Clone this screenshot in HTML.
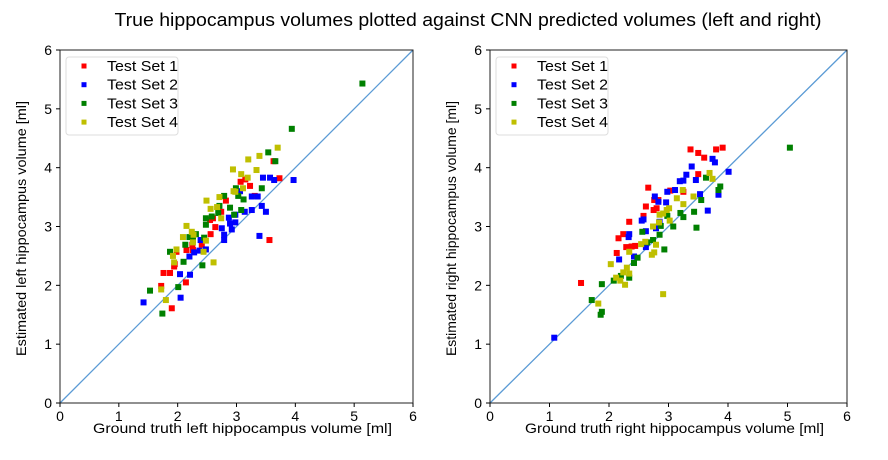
<!DOCTYPE html>
<html><head><meta charset="utf-8"><style>
body{margin:0;background:#fff;}
svg{display:block;font-family:"Liberation Sans","DejaVu Sans",sans-serif;}
</style></head><body>
<svg id="c" width="888" height="460">
<text x="468" y="26" text-anchor="middle" font-size="18" textLength="707" lengthAdjust="spacingAndGlyphs" fill="#000">True hippocampus volumes plotted against  CNN predicted volumes (left and right)</text>
</svg>
<script>
// Left panel data [x, y] in ml
const leftSet1=[[1.76,2.21],[1.87,2.21],[1.94,2.32],[1.95,2.36],[1.72,1.99],[1.90,1.61],[2.14,2.05],[2.15,2.60],[2.26,2.60],[1.98,2.57],[2.41,2.69],[2.56,2.87],[2.64,2.99],[2.55,3.11],[2.60,3.14],[2.74,3.25],[2.82,3.44],[3.07,3.76],[3.15,3.80],[3.23,3.69],[3.31,3.52],[3.63,4.11],[3.73,3.82],[3.56,2.77],[2.25,2.69]];
const leftSet2=[[1.42,1.71],[2.05,1.79],[2.04,2.19],[2.21,2.18],[2.20,2.49],[2.28,2.56],[2.37,2.59],[2.39,2.77],[2.48,2.61],[2.75,2.97],[2.79,2.86],[2.79,2.77],[2.87,3.15],[2.89,3.05],[2.98,3.07],[2.92,2.95],[2.98,3.20],[3.14,3.25],[3.26,3.28],[3.43,3.35],[3.50,3.25],[3.26,3.51],[3.36,3.51],[3.39,2.84],[3.45,3.83],[3.57,3.83],[3.64,3.79],[3.97,3.79],[3.06,3.60],[2.43,2.77]];
const leftSet3=[[1.74,1.52],[1.53,1.91],[2.01,1.97],[2.10,2.40],[1.87,2.57],[2.13,2.69],[2.20,2.82],[2.31,2.87],[2.26,2.77],[2.42,2.34],[2.45,2.81],[2.48,3.14],[2.58,3.17],[2.48,3.03],[2.69,3.23],[2.71,3.35],[2.79,3.52],[2.89,3.32],[2.96,3.20],[3.08,3.28],[2.99,3.65],[3.03,3.52],[3.12,3.46],[3.43,3.65],[3.54,4.26],[3.66,4.11],[3.94,4.66],[5.14,5.43]];
const leftSet4=[[1.72,1.93],[1.80,1.75],[1.94,2.39],[1.92,2.50],[1.98,2.61],[2.09,2.82],[2.15,3.01],[2.24,2.91],[2.27,2.86],[2.26,2.73],[2.44,2.57],[2.61,2.39],[2.48,2.76],[2.49,3.44],[2.56,3.30],[2.67,3.33],[2.71,3.50],[2.74,3.14],[2.95,3.60],[2.98,3.59],[2.94,3.97],[3.08,3.89],[3.11,3.65],[3.19,3.83],[3.20,4.14],[3.34,3.96],[3.39,4.20],[3.70,4.34]];
// Right panel data
const rightSet1=[[1.53,2.04],[2.13,2.55],[2.16,2.80],[2.24,2.87],[2.29,2.65],[2.34,3.08],[2.38,2.66],[2.44,2.67],[2.58,3.18],[2.62,3.34],[2.66,3.66],[2.76,3.45],[2.75,3.28],[2.80,3.31],[2.83,3.45],[3.03,3.61],[3.25,3.59],[3.37,4.31],[3.50,4.25],[3.60,4.17],[3.80,4.31],[3.91,4.34],[3.50,3.89]];
const rightSet2=[[2.17,2.44],[2.33,2.82],[2.34,2.87],[2.55,3.10],[2.58,3.12],[2.62,2.92],[2.79,2.97],[2.85,3.08],[2.77,3.51],[2.83,3.42],[2.96,3.41],[2.98,3.59],[3.11,3.62],[3.19,3.77],[3.25,3.78],[3.30,3.88],[3.39,4.02],[3.46,3.79],[3.53,3.55],[3.66,3.27],[3.74,4.15],[3.78,4.09],[3.84,3.54],[4.01,3.93],[2.42,2.49],[2.62,2.65],[1.08,1.11]];
const rightSet3=[[1.71,1.75],[1.88,1.55],[1.86,1.50],[1.88,2.02],[2.08,2.08],[2.20,2.16],[2.34,2.13],[2.42,2.38],[2.48,2.47],[2.56,2.91],[2.64,2.73],[2.74,2.77],[2.85,2.86],[2.87,3.01],[2.98,3.18],[2.93,2.61],[3.08,3.00],[3.20,3.23],[3.25,3.16],[3.43,3.25],[3.47,2.98],[3.55,3.45],[3.63,3.83],[3.84,3.62],[3.87,3.68],[5.04,4.34]];
const rightSet4=[[1.82,1.69],[2.03,2.36],[2.12,2.13],[2.19,2.08],[2.27,2.01],[2.24,2.22],[2.30,2.30],[2.34,2.20],[2.34,2.57],[2.54,2.70],[2.61,2.74],[2.72,2.52],[2.76,2.56],[2.79,2.69],[2.74,3.00],[2.84,3.07],[2.85,3.20],[2.91,3.22],[2.97,3.28],[3.01,3.31],[3.02,3.10],[3.14,3.48],[3.25,3.38],[3.24,3.62],[3.42,3.51],[3.69,3.91],[3.74,3.81],[2.91,1.85]];
const ticks=[0,1,2,3,4,5,6];
const seriesNames=["Test Set 1","Test Set 2","Test Set 3","Test Set 4"];
const colors=["#ff0000","#0000ff","#008000","#bfbf00"];

const NS="http://www.w3.org/2000/svg";
const svg=document.getElementById('c');
function mk(tag,attrs,parent){const e=document.createElementNS(NS,tag);for(const k in attrs)e.setAttribute(k,attrs[k]);(parent||svg).appendChild(e);return e;}

function panel(key,x0,x1,y0,y1,xlabel,ylabel,sets){
  const g=mk('g',{});
  
  
  const sx=v=>x0+(x1-x0)*v/6, sy=v=>y1-(y1-y0)*v/6;
  const d=mk('line',{x1:sx(0),y1:sy(0),x2:sx(6),y2:sy(6),stroke:'#5b9bd5','stroke-width':1.3},g);
  
  
  sets.forEach((pts,si)=>{
    const sg=mk('g',{},g);
    
    
    pts.forEach(p=>{
      const r=mk('rect',{x:sx(p[0])-3,y:sy(p[1])-3,width:6,height:6,fill:colors[si]},sg);
      
      
    });
  });
  const f=mk('rect',{x:x0,y:y0,width:x1-x0,height:y1-y0,fill:'none',stroke:'#222','stroke-width':1},g);
  
  
  ticks.forEach(t=>{
    mk('line',{x1:sx(t),y1:y1,x2:sx(t),y2:y1+4,stroke:'#000'},g);
    const tx=mk('text',{x:sx(t),y:y1+18,'text-anchor':'middle','font-size':14},g);
    tx.textContent=t;
    
    
    mk('line',{x1:x0-4,y1:sy(t),x2:x0,y2:sy(t),stroke:'#000'},g);
    const ty=mk('text',{x:x0-8,y:sy(t)+5,'text-anchor':'end','font-size':14},g);
    ty.textContent=t;
    
    
  });
  const xl=mk('text',{x:(x0+x1)/2+6,y:y1+30,'text-anchor':'middle','font-size':14,textLength:299,lengthAdjust:'spacingAndGlyphs'},g);
  xl.textContent=xlabel;
  
  
  const yx=x0-34, yy=(y0+y1)/2+2;
  const yl=mk('text',{x:yx,y:yy,'text-anchor':'middle','font-size':14,textLength:255,lengthAdjust:'spacingAndGlyphs',transform:`rotate(-90 ${yx} ${yy})`},g);
  yl.textContent=ylabel;
  
  
  const lg=mk('g',{},g);
  
  
  mk('rect',{x:x0+6,y:y0+7,width:112,height:78,rx:3,fill:'#fff',stroke:'#ddd'},lg);
  seriesNames.forEach((n,i)=>{
    const cy=y0+16+i*18.7;
    const e=mk('g',{},lg);
    
    
    mk('rect',{x:x0+21.5,y:cy-2.5,width:5,height:5,fill:colors[i]},e);
    const t=mk('text',{x:x0+47,y:cy+5,'font-size':15,textLength:71,lengthAdjust:'spacingAndGlyphs'},e);
    t.textContent=n;
  });
}
panel('left',60,413,50,403,'Ground truth left hippocampus volume [ml]','Estimated left hippocampus volume [ml]',[leftSet1,leftSet2,leftSet3,leftSet4]);
panel('right',490,847,50,403,'Ground truth right hippocampus volume [ml]','Estimated right hippocampus volume [ml]',[rightSet1,rightSet2,rightSet3,rightSet4]);
</script>
</body></html>
